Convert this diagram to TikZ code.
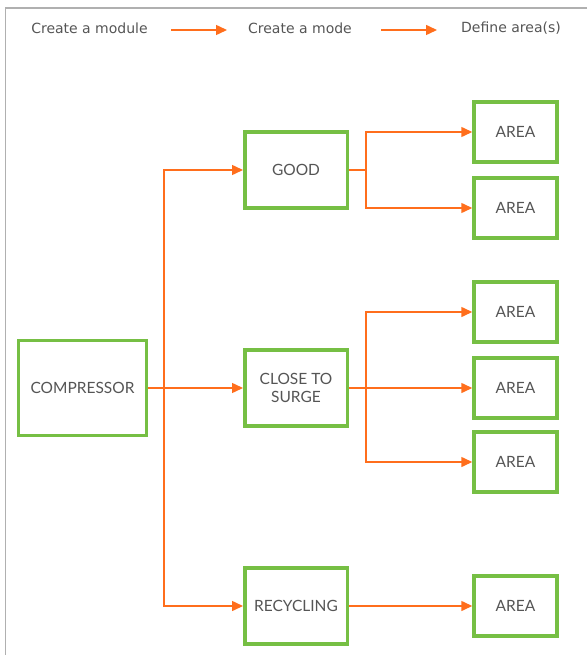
\documentclass[tikz,border=0pt]{standalone}
\usepackage{fontspec}
\setmainfont{Lato}
\newfontfamily\headfont{DejaVu Sans}
\usetikzlibrary{arrows.meta}
\definecolor{boxgreen}{HTML}{76BF44}
\definecolor{lineorange}{HTML}{FF6E1C}
\definecolor{txtgray}{HTML}{555555}
\definecolor{framegray}{HTML}{B0B0B0}
\tikzset{
  basebox/.style={draw=boxgreen, line width=3.5pt, fill=white, inner sep=2pt,
    align=center, text=txtgray, font=\fontsize{15.5}{17.5}\selectfont},
  modulebox/.style={basebox, minimum width=128pt, minimum height=95pt},
  modebox/.style={basebox, minimum width=102.5pt, minimum height=76pt},
  areabox/.style={basebox, minimum width=83pt, minimum height=60pt},
  headtext/.style={text=txtgray, font=\headfont\fontsize{14}{16}\selectfont, inner sep=0pt},
  flow/.style={draw=lineorange, line width=1.5pt, -{Triangle[length=11pt,width=10pt]}},
  flowline/.style={draw=lineorange, line width=1.5pt},
  frameline/.style={draw=framegray, line width=1.3pt}
}
\begin{document}
\begin{tikzpicture}[x=1pt,y=-1pt]
\useasboundingbox (0,0) rectangle (587,655);
% frame
\coordinate (ftl) at (5.5,8);
\coordinate (ftr) at (587,8);
\coordinate (fbl) at (5.5,655);
\draw[frameline] (ftr) -- (ftl) -- (fbl);
% header
\node[headtext] (h1) at (89.5,28) {Create a module};
\node[headtext] (h2) at (300,28) {Create a mode};
\node[headtext] (h3) at (511,28) {Define area(s)};
\coordinate (a1s) at (171,30);
\coordinate (a1e) at (227,30);
\coordinate (a2s) at (381,30);
\coordinate (a2e) at (437,30);
\draw[flow] (a1s) -- (a1e);
\draw[flow] (a2s) -- (a2e);
% boxes
\node[modulebox] (comp) at (82.5,388) {COMPRESSOR};
\node[modebox] (good) at (296,170) {GOOD};
\node[modebox] (close) at (296,388) {CLOSE TO\\SURGE};
\node[modebox] (recy) at (296,606) {RECYCLING};
\node[areabox] (ar1) at (515.5,132) {AREA};
\node[areabox] (ar2) at (515.5,208) {AREA};
\node[areabox] (ar3) at (515.5,312) {AREA};
\node[areabox] (ar4) at (515.5,388) {AREA};
\node[areabox] (ar5) at (515.5,462) {AREA};
\node[areabox] (ar6) at (515.5,606) {AREA};
% connectors from compressor
\coordinate (cs) at (164,388);
\draw[flowline] (comp.east) -- (cs);
\draw[flow] (comp.east) -- (close.west);
\draw[flow] (cs) |- (good.west);
\draw[flow] (cs) |- (recy.west);
% connectors from good
\coordinate (gs) at (366,170);
\draw[flowline] (good.east) -- (gs);
\draw[flow] (gs) |- (ar1.west);
\draw[flow] (gs) |- (ar2.west);
% connectors from close to surge
\coordinate (ss) at (366,388);
\draw[flowline] (close.east) -- (ss);
\draw[flow] (ss) |- (ar3.west);
\draw[flow] (close.east) -- (ar4.west);
\draw[flow] (ss) |- (ar5.west);
% recycling
\draw[flow] (recy.east) -- (ar6.west);
\end{tikzpicture}
\end{document}
